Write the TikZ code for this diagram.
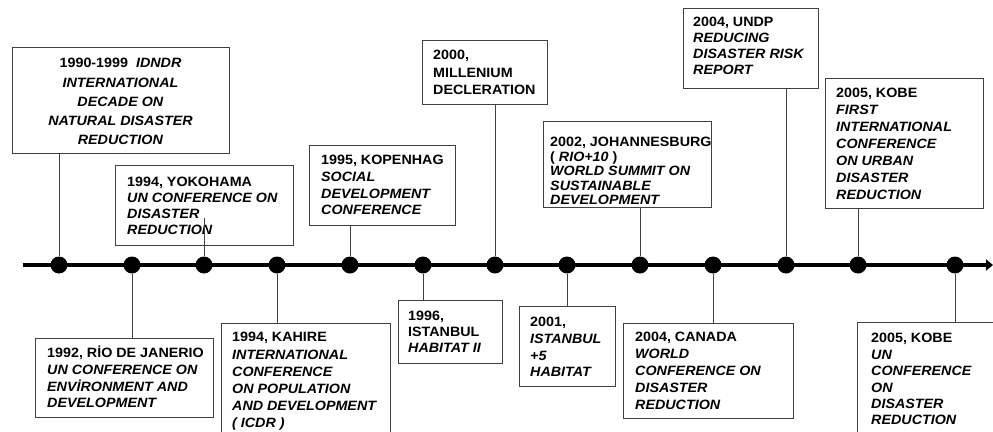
\documentclass[tikz,border=0pt]{standalone}
\usepackage{fontspec}
\setmainfont{Liberation Sans}[FakeStretch=1.06]
\usetikzlibrary{arrows.meta}
\newcommand\evfont[1]{\fontsize{13.5}{#1}\selectfont\bfseries}
\begin{document}
\begin{tikzpicture}[x=1pt,y=-1pt,
  evbox/.style={draw=black!75, line width=1pt, fill=white, inner sep=0pt, anchor=north west},
  evtext/.style={inner sep=0pt, anchor=north west, align=left},
  evdot/.style={circle, fill=black, inner sep=0pt, minimum size=17pt},
  conn/.style={draw=black!75, line width=1pt},
  axis/.style={line width=4pt, -{Triangle[length=7pt,width=11pt]}}]
\useasboundingbox (0,0) rectangle (993,431);
\clip (0,0) rectangle (993,431);

% time axis
\coordinate (start) at (23,265);
\coordinate (finish) at (993,265);
\draw[axis] (start) -- (finish);

% events on the axis
\foreach \n/\x in {1/59,2/132,3/204,4/277,5/350,6/423,7/495,8/567,9/640,10/713,11/786,12/858,13/955}
  \node[evdot] (d\n) at (\x,265) {};

% boxes above the axis
\node[evbox, minimum width=217pt, minimum height=106pt] (b1) at (12,47) {};
\node[inner sep=0pt, anchor=north, align=center, font=\evfont{19.2}] (t1) at (120.5,58.2)
  {1990-1999 \ \textit{IDNDR}\\ \textit{INTERNATIONAL}\\ \textit{DECADE ON}\\ \textit{NATURAL DISASTER}\\ \textit{REDUCTION}};

\node[evbox, minimum width=178pt, minimum height=80pt] (b2) at (115,165) {};
\node[evtext, font=\evfont{16}] (t2) at (127,177.2)
  {1994, YOKOHAMA\\ \textit{UN CONFERENCE ON}\\ \textit{DISASTER}\\ \textit{REDUCTION}};

\node[evbox, minimum width=146pt, minimum height=80pt] (b3) at (309,145) {};
\node[evtext, font=\evfont{16.7}] (t3) at (321,155.2)
  {1995, KOPENHAG\\ \textit{SOCIAL}\\ \textit{DEVELOPMENT}\\ \textit{CONFERENCE}};

\node[evbox, minimum width=125pt, minimum height=64pt] (b4) at (422,40) {};
\node[evtext, font=\evfont{17.5}] (t4) at (433,50.2)
  {2000,\\ MILLENIUM\\ DECLERATION};

\node[evbox, minimum width=168pt, minimum height=86pt] (b5) at (543,121) {};
\node[evtext, font=\evfont{14.6}] (t5) at (550,136.9)
  {2002, JOHANNESBURG\\ ( \textit{RIO+10} )\\ \textit{WORLD SUMMIT ON}\\ \textit{SUSTAINABLE}\\ \textit{DEVELOPMENT}};

\node[evbox, minimum width=135pt, minimum height=80pt] (b6) at (683,8) {};
\node[evtext, font=\evfont{16}] (t6) at (693,17.2)
  {2004, UNDP\\ \textit{REDUCING}\\ \textit{DISASTER RISK}\\ \textit{REPORT}};

\node[evbox, minimum width=158pt, minimum height=130pt] (b7) at (825,78) {};
\node[evtext, font=\evfont{17}] (t7) at (836,88.2)
  {2005, KOBE\\ \textit{FIRST}\\ \textit{INTERNATIONAL}\\ \textit{CONFERENCE}\\ \textit{ON URBAN}\\ \textit{DISASTER}\\ \textit{REDUCTION}};

% boxes below the axis
\node[evbox, minimum width=178pt, minimum height=79pt] (b8) at (35,338) {};
\node[evtext, font=\evfont{16.7}] (t8) at (47,348.2)
  {1992, R\smash{İ}O DE JANERIO\\ \textit{UN CONFERENCE ON}\\ \textit{ENV\smash{İ}RONMENT AND}\\ \textit{DEVELOPMENT}};

\node[evbox, minimum width=169pt, minimum height=122pt] (b9) at (221,323) {};
\node[evtext, font=\evfont{17.2}] (t9) at (232,332.2)
  {1994, KAHIRE\\ \textit{INTERNATIONAL}\\ \textit{CONFERENCE}\\ \textit{ON POPULATION}\\ \textit{AND DEVELOPMENT}\\ \textit{( ICDR )}};

\node[evbox, minimum width=104pt, minimum height=63pt] (b10) at (398,300) {};
\node[evtext, font=\evfont{16}] (t10) at (408,311.2)
  {1996,\\ ISTANBUL\\ \textit{HABITAT II}};

\node[evbox, minimum width=96pt, minimum height=80pt] (b11) at (519,306) {};
\node[evtext, font=\evfont{16.7}] (t11) at (530,317.2)
  {2001,\\ \textit{ISTANBUL}\\ \textit{+5}\\ \textit{HABITAT}};

\node[evbox, minimum width=170pt, minimum height=95pt] (b12) at (623,323) {};
\node[evtext, font=\evfont{17}] (t12) at (635,332.2)
  {2004, CANADA\\ \textit{WORLD}\\ \textit{CONFERENCE ON}\\ \textit{DISASTER}\\ \textit{REDUCTION}};

\node[evbox, minimum width=143pt, minimum height=123pt] (b13) at (857,322) {};
\node[evtext, font=\evfont{16.4}] (t13) at (871,333.2)
  {2005, KOBE\\ \textit{UN}\\ \textit{CONFERENCE}\\ \textit{ON}\\ \textit{DISASTER}\\ \textit{REDUCTION}};

% connectors from the axis to the boxes
\coordinate (c2) at (204,218);
\draw[conn] (d1) -- (d1 |- b1.south);
\draw[conn] (d2) -- (d2 |- b8.north);
\draw[conn] (d3) -- (c2);
\draw[conn] (d4) -- (d4 |- b9.north);
\draw[conn] (d5) -- (d5 |- b3.south);
\draw[conn] (d6) -- (d6 |- b10.north);
\draw[conn] (d7) -- (d7 |- b4.south);
\draw[conn] (d8) -- (d8 |- b11.north);
\draw[conn] (d9) -- (d9 |- b5.south);
\draw[conn] (d10) -- (d10 |- b12.north);
\draw[conn] (d11) -- (d11 |- b6.south);
\draw[conn] (d12) -- (d12 |- b7.south);
\draw[conn] (d13) -- (d13 |- b13.north);
\end{tikzpicture}
\end{document}
